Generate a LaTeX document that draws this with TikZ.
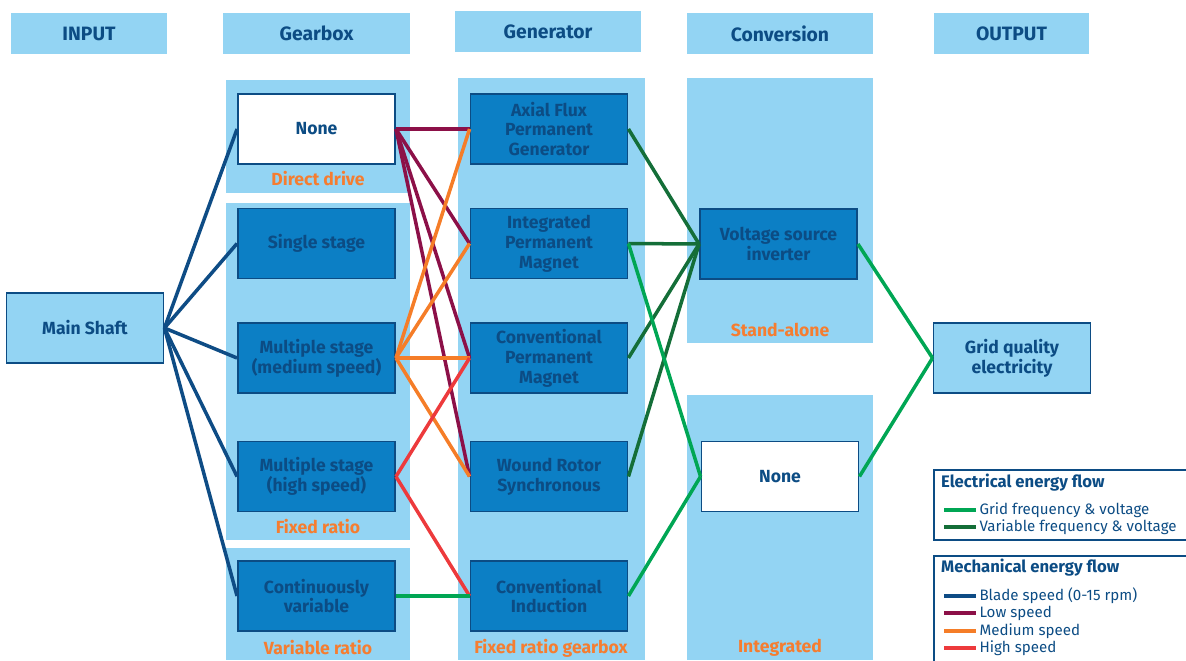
\documentclass[tikz,border=0pt]{standalone}
\usepackage{fontspec}
\setmainfont{Fira Sans}
\usetikzlibrary{positioning}

\definecolor{panelblue}{RGB}{147,212,243}
\definecolor{boxblue}{RGB}{12,127,197}
\definecolor{navy}{RGB}{12,76,132}
\definecolor{orangelbl}{RGB}{245,125,48}
\definecolor{bladeblue}{RGB}{14,76,133}
\definecolor{lowspeed}{RGB}{140,16,72}
\definecolor{medspeed}{RGB}{245,125,40}
\definecolor{highspeed}{RGB}{237,58,60}
\definecolor{gridgreen}{RGB}{0,166,84}
\definecolor{vargreen}{RGB}{20,110,56}

\begin{document}
\begin{tikzpicture}[
    x=0.02cm, y=-0.02cm,
    header/.style={rectangle, fill=panelblue, minimum height=0.82cm, text=navy,
        font=\bfseries\fontsize{11}{13}\selectfont},
    panel/.style={fill=panelblue},
    box/.style={rectangle, draw=navy, line width=1.1pt, minimum width=3.14cm,
        minimum height=1.4cm, align=center, text=navy,
        font=\bfseries\fontsize{10}{11.3}\selectfont},
    genbox/.style={box, fill=boxblue},
    nonebox/.style={box, fill=white},
    endbox/.style={box, fill=panelblue},
    panellabel/.style={text=orangelbl, font=\bfseries\fontsize{10}{12}\selectfont},
    legtitle/.style={anchor=west, text=navy, font=\bfseries\fontsize{9.5}{11}\selectfont},
    legtext/.style={anchor=west, text=navy, inner sep=1pt, font=\fontsize{8.6}{10}\selectfont},
    blade/.style={bladeblue, line width=2pt},
    lowsp/.style={lowspeed, line width=2pt},
    medsp/.style={medspeed, line width=2pt},
    highsp/.style={highspeed, line width=2pt},
    gridfv/.style={gridgreen, line width=2pt},
    varfv/.style={vargreen, line width=2pt}
]
\useasboundingbox (0,0) rectangle (1186,660);

% Column headers
\node[header, minimum width=3.12cm] (hinput) at (89,33.5) {INPUT};
\node[header, minimum width=3.74cm] (hgear) at (316.5,33.5) {Gearbox};
\node[header, minimum width=3.72cm] (hgen) at (548,31.5) {Generator};
\node[header, minimum width=3.72cm] (hconv) at (780,33.5) {Conversion};
\node[header, minimum width=3.10cm] (hout) at (1011.5,33.5) {OUTPUT};

% Background panels
\fill[panel] (226,80) rectangle (410,193);
\fill[panel] (226,203) rectangle (410,540);
\fill[panel] (226,548) rectangle (410,660);
\fill[panel] (458,78) rectangle (645,660);
\fill[panel] (687,78) rectangle (873,343);
\fill[panel] (687,395) rectangle (873,660);

% Panel captions
\node[panellabel] (ldirect) at (318,179) {Direct drive};
\node[panellabel] (lfixed) at (318,527) {Fixed ratio};
\node[panellabel] (lvar) at (318,648) {Variable ratio};
\node[panellabel] (lfixgear) at (551,648) {Fixed ratio gearbox};
\node[panellabel] (lstand) at (780,330) {Stand-alone};
\node[panellabel] (linteg) at (780,648) {Integrated};

% Input and output
\node[endbox] (shaft) at (85,328) {Main Shaft};
\node[endbox] (grid) at (1012,358) {Grid quality\\electricity};

% Gearbox options
\node[nonebox] (gnone) at (316.5,129) {None};
\node[genbox] (single) at (316.5,243.5) {Single stage};
\node[genbox] (medium) at (316.5,358) {Multiple stage\\(medium speed)};
\node[genbox] (high) at (316.5,476.5) {Multiple stage\\(high speed)};
\node[genbox] (contvar) at (316.5,596) {Continuously\\variable};

% Generator options
\node[genbox] (axial) at (549,129) {Axial Flux\\Permanent\\Generator};
\node[genbox] (ipm) at (549,243.5) {Integrated\\Permanent\\Magnet};
\node[genbox] (cpm) at (549,358) {Conventional\\Permanent\\Magnet};
\node[genbox] (wrs) at (549,476.5) {Wound Rotor\\Synchronous};
\node[genbox] (cind) at (549,596) {Conventional\\Induction};

% Conversion options
\node[genbox] (vsi) at (778.5,244) {Voltage source\\inverter};
\node[nonebox] (cnone) at (780,476.5) {None};

% Blade speed
\foreach \g in {gnone, single, medium, high, contvar}
    \draw[blade] (shaft.east) -- (\g.west);

% Low speed
\foreach \g in {axial, ipm, cpm, wrs}
    \draw[lowsp] (gnone.east) -- (\g.west);

% Medium speed
\foreach \g in {axial, ipm, cpm, wrs}
    \draw[medsp] (medium.east) -- (\g.west);

% High speed
\draw[highsp] (high.east) -- (cpm.west);
\draw[highsp] (high.east) -- (cind.west);

% Electrical flow
\draw[gridfv] (contvar.east) -- (cind.west);
\foreach \g in {axial, ipm, cpm, wrs}
    \draw[varfv] (\g.east) -- (vsi.west);
\draw[gridfv] (ipm.east) -- (cnone.west);
\draw[gridfv] (cind.east) -- (cnone.west);
\draw[gridfv] (vsi.east) -- (grid.west);
\draw[gridfv] (cnone.east) -- (grid.west);

% Legend
\draw[navy, line width=1.1pt] (1187,470) -- (934,470) -- (934,540) -- (1187,540);
\node[legtitle] (elec) at (935,483) {Electrical energy flow};
\draw[gridfv] (944,510) -- (976,510) node[legtext] (lgrid) {Grid frequency \& voltage};
\draw[varfv] (944,527) -- (976,527) node[legtext] (lvarf) {Variable frequency \& voltage};

\draw[navy, line width=1.1pt] (1187,556) -- (934,556) -- (934,661);
\node[legtitle] (mech) at (935,568) {Mechanical energy flow};
\draw[blade] (944,596) -- (976,596) node[legtext] (lblade) {Blade speed (0-15 rpm)};
\draw[lowsp] (944,613) -- (976,613) node[legtext] (llow) {Low speed};
\draw[medsp] (944,631) -- (976,631) node[legtext] (lmed) {Medium speed};
\draw[highsp] (944,648) -- (976,648) node[legtext] (lhigh) {High speed};

\end{tikzpicture}
\end{document}
